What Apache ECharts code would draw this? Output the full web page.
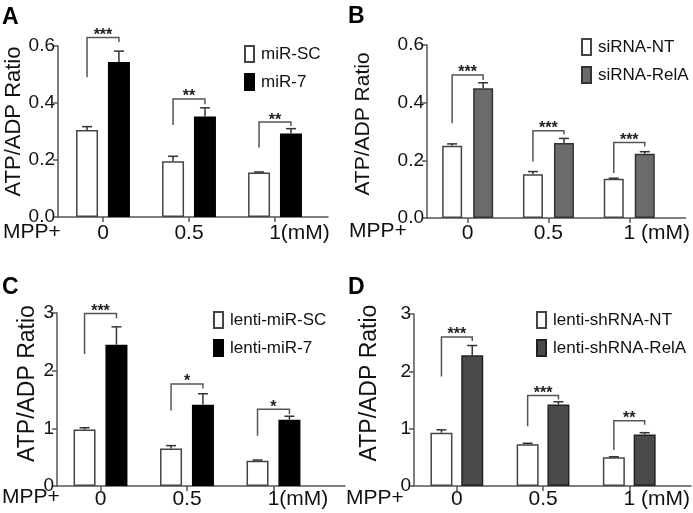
<!DOCTYPE html>
<html><head><meta charset="utf-8">
<script src="https://cdn.jsdelivr.net/npm/echarts@6/dist/echarts.min.js"></script>
<style>html,body{margin:0;padding:0;background:#fff}#c{width:693px;height:513px}</style>
</head><body><div id="c"></div>
<script>
// ---- data ----
const doseX = [0, 1, 2];
const doseLabelsAC = ['0', '0.5', '1(mM)'];
const doseLabelsBD = ['0', '0.5', '1 (mM)'];

// Panel A
const aNames = ['miR-SC', 'miR-7'];
const aCtrl = [0.305, 0.196, 0.156];
const aCtrlErr = [0.012, 0.017, 0.002];
const aTreat = [0.544, 0.353, 0.293];
const aTreatErr = [0.038, 0.030, 0.017];
const aBrLeft = [0.49, 0.323, 0.244];
const aBrTop = [0.63, 0.414, 0.333];
const aBrRight = [0.614, 0.396, 0.319];
const aStars = ['***', '**', '**'];
const aTicks = [0, 0.2, 0.4, 0.6];

// Panel B
const bNames = ['siRNA-NT', 'siRNA-RelA'];
const bCtrl = [0.251, 0.152, 0.136];
const bCtrlErr = [0.006, 0.009, 0.002];
const bTreat = [0.450, 0.260, 0.223];
const bTreatErr = [0.019, 0.016, 0.007];
const bBrLeft = [0.329, 0.196, 0.156];
const bBrTop = [0.496, 0.303, 0.262];
const bBrRight = [0.479, 0.290, 0.248];
const bStars = ['***', '***', '***'];
const bTicks = [0, 0.2, 0.4, 0.6];

// Panel C
const cNames = ['lenti-miR-SC', 'lenti-miR-7'];
const cCtrl = [0.98, 0.65, 0.44];
const cCtrlErr = [0.03, 0.05, 0.01];
const cTreat = [2.45, 1.41, 1.15];
const cTreatErr = [0.31, 0.19, 0.06];
const cBrLeft = [2.29, 1.31, 0.87];
const cBrTop = [2.99, 1.77, 1.33];
const cBrRight = [2.91, 1.69, 1.25];
const cStars = ['***', '*', '*'];
const cTicks = [0, 1, 2, 3];

// Panel D
const dNames = ['lenti-shRNA-NT', 'lenti-shRNA-RelA'];
const dCtrl = [0.93, 0.73, 0.50];
const dCtrlErr = [0.05, 0.015, 0.01];
const dTreat = [2.28, 1.42, 0.90];
const dTreatErr = [0.17, 0.05, 0.03];
const dBrLeft = [1.91, 1.04, 0.63];
const dBrTop = [2.60, 1.58, 1.14];
const dBrRight = [2.53, 1.51, 1.07];
const dStars = ['***', '***', '**'];
const dTicks = [0, 1, 2, 3];

const yTitle = 'ATP/ADP Ratio';
const xTitle = 'MPP+';
const panelLetters = ['A', 'B', 'C', 'D'];

// ---- layout / style ----
const FONT = '"Liberation Sans", Arial, sans-serif';
const AX = '#555';
const panels = [
  { letter: panelLetters[0], names: aNames, ctrl: aCtrl, ctrlErr: aCtrlErr, treat: aTreat, treatErr: aTreatErr,
    brL: aBrLeft, brT: aBrTop, brR: aBrRight, stars: aStars, ticks: aTicks, labels: doseLabelsAC, dec: 1,
    grid: { left: 58, top: 46, width: 270, height: 171 }, xmin: -0.523, xmax: 2.616,
    barW: 22, gap: 0.45, fill: '#000', border: '#000',
    legend: { left: 239, top: 40 }, nameGap: 33, namePad: 20, labelMargin: 6, yFont: 22,
    letterPos: [2, 6], mppPos: [3, 232] },
  { letter: panelLetters[1], names: bNames, ctrl: bCtrl, ctrlErr: bCtrlErr, treat: bTreat, treatErr: bTreatErr,
    brL: bBrLeft, brT: bBrTop, brR: bBrRight, stars: bStars, ticks: bTicks, labels: doseLabelsBD, dec: 1,
    grid: { left: 427, top: 45, width: 264, height: 173 }, xmin: -0.503, xmax: 2.697,
    barW: 20, gap: 0.55, fill: '#6b6b6b', border: '#333',
    legend: { left: 576, top: 33 }, nameGap: 53, namePad: 15, labelMargin: 5, yFont: 21,
    letterPos: [348, 5], mppPos: [349, 231] },
  { letter: panelLetters[2], names: cNames, ctrl: cCtrl, ctrlErr: cCtrlErr, treat: cTreat, treatErr: cTreatErr,
    brL: cBrLeft, brT: cBrTop, brR: cBrRight, stars: cStars, ticks: cTicks, labels: doseLabelsAC, dec: 0,
    grid: { left: 57, top: 313, width: 288, height: 173 }, xmin: -0.503, xmax: 2.827,
    barW: 22, gap: 0.45, fill: '#000', border: '#000',
    legend: { left: 208, top: 306 }, nameGap: 14, namePad: 32, labelMargin: 3, yFont: 23,
    letterPos: [2, 276], mppPos: [2, 497] },
  { letter: panelLetters[3], names: dNames, ctrl: dCtrl, ctrlErr: dCtrlErr, treat: dTreat, treatErr: dTreatErr,
    brL: dBrLeft, brT: dBrTop, brR: dBrRight, stars: dStars, ticks: dTicks, labels: doseLabelsBD, dec: 0,
    grid: { left: 414, top: 314, width: 278, height: 172 }, xmin: -0.497, xmax: 2.717,
    barW: 22, gap: 0.4, fill: '#4a4a4a', border: '#222',
    legend: { left: 531, top: 306 }, nameGap: 33, namePad: 34, labelMargin: 3, yFont: 23,
    letterPos: [348, 276], mppPos: [346, 498] }
];

const option = { animation: false, backgroundColor: '#fff', textStyle: { fontFamily: FONT },
  grid: [], xAxis: [], yAxis: [], series: [], legend: [], graphic: [] };

function errRender(off) {
  return function (params, api) {
    const x = api.value(0), v = api.value(1), e = api.value(2);
    const p0 = api.coord([x, v]), p1 = api.coord([x, v + e]);
    const cx = p0[0] + off;
    const st = { stroke: '#333', lineWidth: 1.5 };
    return { type: 'group', children: [
      { type: 'line', shape: { x1: cx, y1: p0[1], x2: cx, y2: p1[1] }, style: st },
      { type: 'line', shape: { x1: cx - 5, y1: p1[1], x2: cx + 5, y2: p1[1] }, style: st }
    ] };
  };
}
function bracketRender(off, stars) {
  return function (params, api) {
    const x = api.value(0);
    const pl = api.coord([x, api.value(1)]), pt = api.coord([x, api.value(2)]), pr = api.coord([x, api.value(3)]);
    const xl = pl[0] - off, xr = pl[0] + off;
    return { type: 'group', children: [
      { type: 'polyline', shape: { points: [[xl, pl[1]], [xl, pt[1]], [xr, pt[1]], [xr, pr[1]]] },
        style: { stroke: '#555', lineWidth: 1.5, fill: null } },
      { type: 'text', x: (xl + xr) / 2, y: pt[1] + 6,
        style: { text: stars[params.dataIndex], fill: '#222', font: 'bold 16px ' + FONT,
          align: 'center', verticalAlign: 'bottom' } }
    ] };
  };
}
function idxPad(t) {
  const ctx = document.createElement('canvas').getContext('2d');
  ctx.font = '21px ' + FONT;
  return Math.round(ctx.measureText(t).width - ctx.measureText('1').width);
}

panels.forEach((p, i) => {
  option.grid.push(p.grid);
  const labels = p.labels;
  option.xAxis.push({ type: 'value', gridIndex: i, min: p.xmin, max: p.xmax,
    axisLine: { show: true, onZero: false, lineStyle: { color: AX, width: 1.5 } },
    axisTick: { show: true, customValues: doseX, length: 5, lineStyle: { color: AX, width: 1.5 } },
    axisLabel: { customValues: doseX, margin: p.labelMargin, color: '#111', fontSize: 21, fontFamily: FONT,
      formatter: v => {
        const idx = doseX.indexOf(Math.round(v));
        const t = labels[idx];
        return idx === 2 ? '{r|' + t + '}' : t;
      },
      rich: { r: { fontSize: 21, fontFamily: FONT, color: '#111', padding: [0, 0, 0, idxPad(labels[2])] } } },
    splitLine: { show: false } });
  option.yAxis.push({ type: 'value', gridIndex: i, min: p.ticks[0], max: p.ticks[p.ticks.length - 1],
    interval: p.ticks[1] - p.ticks[0],
    name: yTitle, nameLocation: 'middle', nameRotate: 90, nameGap: p.nameGap,
    nameTextStyle: { fontSize: p.yFont, color: '#111', fontFamily: FONT, padding: [0, 0, 0, p.namePad] },
    axisLine: { show: true, onZero: false, lineStyle: { color: AX, width: 1.5 } },
    axisTick: { show: true, length: 5, lineStyle: { color: AX, width: 1.5 } },
    axisLabel: { margin: 3, color: '#111', fontSize: 19, fontFamily: FONT, formatter: v => v.toFixed(p.dec) },
    splitLine: { show: false } });
  const off = p.barW * (1 + p.gap) / 2;
  option.series.push({ type: 'bar', name: p.names[0], xAxisIndex: i, yAxisIndex: i,
    barWidth: p.barW, barGap: (p.gap * 100) + '%',
    data: doseX.map((x, k) => [x, p.ctrl[k]]),
    itemStyle: { color: '#fff', borderColor: '#444', borderWidth: 1.5 } });
  option.series.push({ type: 'bar', name: p.names[1], xAxisIndex: i, yAxisIndex: i,
    barWidth: p.barW, barGap: (p.gap * 100) + '%',
    data: doseX.map((x, k) => [x, p.treat[k]]),
    itemStyle: { color: p.fill, borderColor: p.border, borderWidth: 1.5 } });
  option.series.push({ type: 'custom', xAxisIndex: i, yAxisIndex: i, renderItem: errRender(-off),
    encode: { x: 0, y: [1, 2] }, data: doseX.map((x, k) => [x, p.ctrl[k], p.ctrlErr[k]]), z: 3 });
  option.series.push({ type: 'custom', xAxisIndex: i, yAxisIndex: i, renderItem: errRender(off),
    encode: { x: 0, y: [1, 2] }, data: doseX.map((x, k) => [x, p.treat[k], p.treatErr[k]]), z: 3 });
  option.series.push({ type: 'custom', xAxisIndex: i, yAxisIndex: i, renderItem: bracketRender(off, p.stars),
    encode: { x: 0, y: [1, 2, 3] }, data: doseX.map((x, k) => [x, p.brL[k], p.brT[k], p.brR[k]]), z: 3 });
  option.legend.push({ data: p.names, orient: 'vertical', left: p.legend.left, top: p.legend.top,
    itemWidth: 9, itemHeight: 16, itemGap: 10, icon: 'rect', selectedMode: false,
    textStyle: { fontSize: 17, color: '#111', fontFamily: FONT, padding: [0, 0, 0, 2] } });
  option.graphic.push({ type: 'text', x: p.letterPos[0], y: p.letterPos[1],
    style: { text: p.letter, font: 'bold 23px ' + FONT, fill: '#000' } });
  option.graphic.push({ type: 'text', x: p.mppPos[0], y: p.mppPos[1],
    style: { text: xTitle, font: '21px ' + FONT, fill: '#111', verticalAlign: 'middle' } });
});

const chart = echarts.init(document.getElementById('c'), null, { renderer: 'canvas' });
chart.setOption(option);
</script>
</body></html>
